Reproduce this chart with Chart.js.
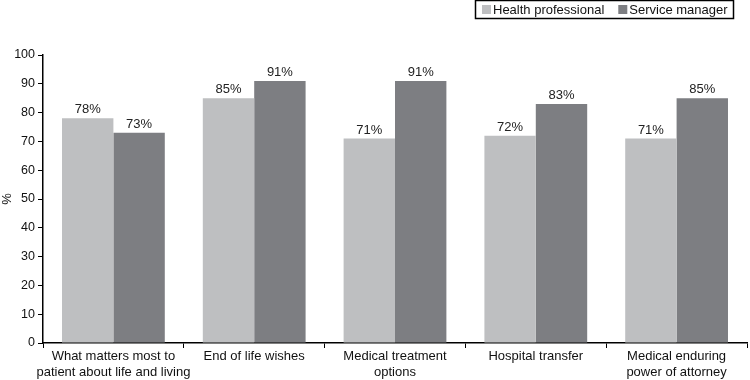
<!DOCTYPE html>
<html>
<head>
<meta charset="utf-8">
<script src="https://cdn.jsdelivr.net/npm/chart.js"></script>
<style>
  body { margin: 0; background: #fff; }
  #wrap { width: 750px; height: 380px; }
</style>
</head>
<body>
<div id="wrap"><canvas id="chart"></canvas></div>
<script>
// Data
const categories = [
  ['What matters most to', 'patient about life and living'],
  ['End of life wishes'],
  ['Medical treatment', 'options'],
  ['Hospital transfer'],
  ['Medical enduring', 'power of attorney']
];
const healthProfessional = [78, 85, 71, 72, 71];
const serviceManager = [73, 91, 91, 83, 85];
const yTicks = [0, 10, 20, 30, 40, 50, 60, 70, 80, 90, 100];

const fontFamily = 'Liberation Sans, Arial, sans-serif';

// labels over the bars
const valueLabels = {
  id: 'valueLabels',
  afterDatasetsDraw(chart) {
    const ctx = chart.ctx;
    ctx.save();
    ctx.font = '13px ' + fontFamily;
    ctx.fillStyle = '#222';
    ctx.textAlign = 'center';
    ctx.textBaseline = 'alphabetic';
    chart.data.datasets.forEach((ds, i) => {
      chart.getDatasetMeta(i).data.forEach((bar, j) => {
        ctx.fillText(ds.data[j] + '%', bar.x, bar.y - 5);
      });
    });
    ctx.restore();
  }
};

// boxed legend in the top right corner
const boxLegend = {
  id: 'boxLegend',
  afterDraw(chart) {
    const ctx = chart.ctx;
    ctx.save();
    ctx.strokeStyle = '#000';
    ctx.lineWidth = 1.5;
    ctx.strokeRect(475.5, 0.5, 258, 18);
    ctx.font = '13px ' + fontFamily;
    ctx.textBaseline = 'middle';
    ctx.textAlign = 'left';
    let x = 482;
    chart.data.datasets.forEach(ds => {
      ctx.fillStyle = ds.backgroundColor;
      ctx.fillRect(x, 5, 9, 9);
      ctx.fillStyle = '#111';
      ctx.fillText(ds.label, x + 11, 10);
      x += 11 + ctx.measureText(ds.label).width + 14;
    });
    ctx.restore();
  }
};

new Chart(document.getElementById('chart'), {
  type: 'bar',
  data: {
    labels: categories,
    datasets: [
      {
        label: 'Health professional',
        data: healthProfessional,
        backgroundColor: '#bebfc1'
      },
      {
        label: 'Service manager',
        data: serviceManager,
        backgroundColor: '#7d7e82'
      }
    ]
  },
  options: {
    responsive: true,
    maintainAspectRatio: false,
    animation: false,
    layout: { padding: { left: 0, right: 3, top: 55, bottom: 0 } },
    datasets: {
      bar: { categoryPercentage: 0.73, barPercentage: 1.0 }
    },
    plugins: {
      legend: { display: false },
      tooltip: { enabled: false }
    },
    scales: {
      x: {
        afterFit(axis) { axis.height = 37; },
        grid: {
          display: true,
          drawOnChartArea: false,
          color: '#000',
          tickLength: 5,
          offset: true
        },
        border: { color: '#000', width: 1.5 },
        ticks: {
          color: '#111',
          maxRotation: 0,
          autoSkip: false,
          padding: 1,
          font: { family: fontFamily, size: 13, lineHeight: 1.2 }
        }
      },
      y: {
        min: 0,
        max: 100,
        afterFit(axis) { axis.width = 43; },
        afterBuildTicks(axis) {
          axis.ticks = yTicks.map(v => ({ value: v }));
        },
        grid: {
          display: true,
          drawOnChartArea: false,
          color: '#000',
          tickLength: 5
        },
        border: { color: '#000', width: 1.5 },
        ticks: {
          color: '#111',
          padding: 3,
          font: { family: fontFamily, size: 12.5 }
        },
        title: {
          display: true,
          text: '%',
          color: '#111',
          padding: 0,
          font: { family: fontFamily, size: 13 }
        }
      }
    }
  },
  plugins: [valueLabels, boxLegend]
});
</script>
</body>
</html>
